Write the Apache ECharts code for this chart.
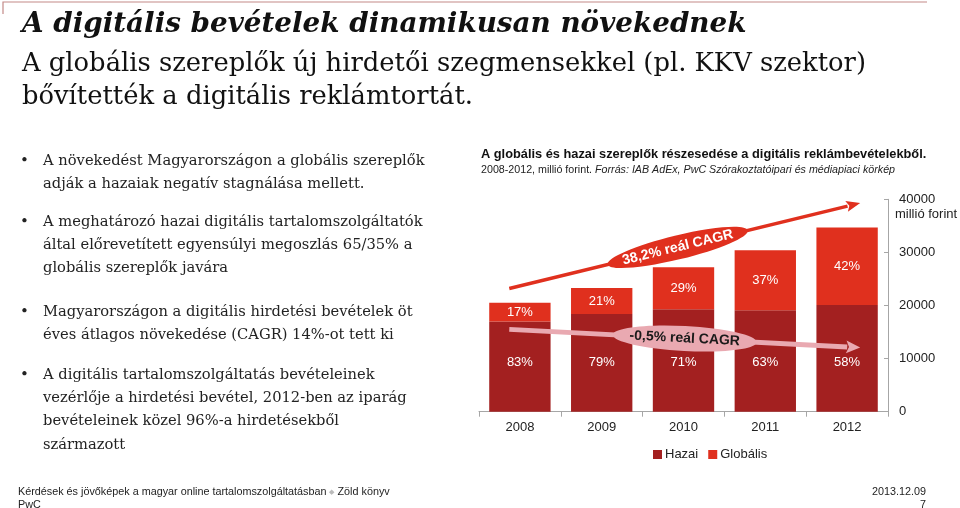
<!DOCTYPE html>
<html>
<head>
<meta charset="utf-8">
<script src="https://cdn.jsdelivr.net/npm/echarts@6/dist/echarts.min.js"></script>
<style>
html,body{margin:0;padding:0;background:#fff;}
#c{width:960px;height:508px;}
</style>
</head>
<body>
<div id="c"></div>
<script>
const categories = ['2008', '2009', '2010', '2011', '2012'];
const hazai = [17000, 18400, 19300, 19100, 20100];
const globalis = [3500, 4900, 7900, 11300, 14600];
const hazaiPct = ['83%', '79%', '71%', '63%', '58%'];
const globalisPct = ['17%', '21%', '29%', '37%', '42%'];
const globalArrowValues = [23700, 38700];
const hazaiArrowValues = [15400, 12200];
const globalArrowLabel = '38,2% reál CAGR';
const hazaiArrowLabel = '-0,5% reál CAGR';
const unitLabel = 'millió forint';

const titleLines = [
  'A digitális bevételek dinamikusan növekednek',
  'A globális szereplők új hirdetői szegmensekkel (pl. KKV szektor)',
  'bővítették a digitális reklámtortát.'
];
const bullets = [
  ['A növekedést Magyarországon a globális szereplők', 'adják a hazaiak negatív stagnálása mellett.'],
  ['A meghatározó hazai digitális tartalomszolgáltatók', 'által előrevetített egyensúlyi megoszlás 65/35% a', 'globális szereplők javára'],
  ['Magyarországon a digitális hirdetési bevételek öt', 'éves átlagos növekedése (CAGR) 14%-ot tett ki'],
  ['A digitális tartalomszolgáltatás bevételeinek', 'vezérlője a hirdetési bevétel, 2012-ben az iparág', 'bevételeinek közel 96%-a hirdetésekből', 'származott']
];
const bulletTops = [161, 222, 312, 375];

const C_HAZAI = '#A32020';
const C_GLOB = '#E0301E';
const C_PINK = '#E9A9B1';
const SANS = '"Liberation Sans", Arial, sans-serif';
const SERIF = '"DejaVu Serif", Georgia, serif';

const chart = echarts.init(document.getElementById('c'), null, {renderer: 'canvas'});

function staticGraphics() {
  const g = [];
  g.push({type: 'polyline', shape: {points: [[3, 14], [3, 2], [927, 2]]}, style: {stroke: '#C48A88', lineWidth: 1.2, fill: null}});
  g.push({type: 'text', x: 22, y: 25, style: {text: titleLines[0], font: 'italic bold 27.8px ' + SERIF, fill: '#111', textVerticalAlign: 'middle'}});
  g.push({type: 'text', x: 22, y: 64, style: {text: titleLines[1], font: '25.8px ' + SERIF, fill: '#111', textVerticalAlign: 'middle'}});
  g.push({type: 'text', x: 22, y: 97, style: {text: titleLines[2], font: '25.8px ' + SERIF, fill: '#111', textVerticalAlign: 'middle'}});
  bullets.forEach((b, i) => {
    g.push({type: 'text', x: 20, y: bulletTops[i], style: {text: '•', font: '15px ' + SERIF, fill: '#222', textVerticalAlign: 'middle'}});
    b.forEach((line, j) => {
      g.push({type: 'text', x: 43, y: bulletTops[i] + j * 23.3, style: {text: line, font: '14.7px ' + SERIF, fill: '#222', textVerticalAlign: 'middle'}});
    });
  });
  g.push({type: 'text', x: 481, y: 154, style: {text: 'A globális és hazai szereplők részesedése a digitális reklámbevételekből.', font: 'bold 12.8px ' + SANS, fill: '#111', textVerticalAlign: 'middle'}});
  g.push({type: 'text', x: 481, y: 170, style: {
    text: '{n|2008-2012, millió forint. }{i|Forrás: IAB AdEx, PwC Szórakoztatóipari és médiapiaci körkép}',
    textVerticalAlign: 'middle',
    rich: {n: {font: '10.7px ' + SANS, fill: '#222'}, i: {font: 'italic 10.7px ' + SANS, fill: '#222'}}
  }});
  g.push({type: 'text', x: 18, y: 492, style: {
    text: '{a|Kérdések és jövőképek a magyar online tartalomszolgáltatásban }{d|◆}{a| Zöld könyv}',
    textVerticalAlign: 'middle',
    rich: {a: {font: '10.8px ' + SANS, fill: '#222'}, d: {font: '7px ' + SANS, fill: '#BBB'}}
  }});
  g.push({type: 'text', x: 18, y: 505, style: {text: 'PwC', font: '10.8px ' + SANS, fill: '#222', textVerticalAlign: 'middle'}});
  g.push({type: 'text', x: 926, y: 492, style: {text: '2013.12.09', font: '10.8px ' + SANS, fill: '#222', textAlign: 'right', textVerticalAlign: 'middle'}});
  g.push({type: 'text', x: 926, y: 505, style: {text: '7', font: '10.8px ' + SANS, fill: '#222', textAlign: 'right', textVerticalAlign: 'middle'}});
  return g;
}

const option = {
  animation: false,
  grid: {left: 479, right: 72, top: 199.3, bottom: 96.3, containLabel: false},
  legend: {
    data: ['Hazai', 'Globális'],
    left: 648, top: 443,
    itemWidth: 9, itemHeight: 9, itemGap: 10,
    icon: 'rect',
    textStyle: {fontFamily: SANS, fontSize: 13, color: '#222', padding: [0, 0, 0, -2]}
  },
  xAxis: {
    type: 'category',
    data: categories,
    axisLine: {lineStyle: {color: '#A6A6A6', width: 1}},
    axisTick: {show: true, length: 5, lineStyle: {color: '#A6A6A6'}},
    axisLabel: {fontFamily: SANS, fontSize: 13, color: '#222', margin: 9}
  },
  yAxis: {
    type: 'value',
    position: 'right',
    min: 0, max: 40000, interval: 10000,
    axisLine: {show: true, lineStyle: {color: '#A6A6A6'}},
    axisTick: {show: true, inside: true, length: 4, lineStyle: {color: '#A6A6A6'}},
    splitLine: {show: false},
    axisLabel: {fontFamily: SANS, fontSize: 13, color: '#222', margin: 11, formatter: v => String(v)}
  },
  series: [
    {
      name: 'Hazai', type: 'bar', stack: 'total', barWidth: '75%',
      data: hazai,
      itemStyle: {color: C_HAZAI},
      label: {show: true, position: 'insideBottom', distance: 43, color: '#fff', fontFamily: SANS, fontSize: 13,
        formatter: p => hazaiPct[p.dataIndex]}
    },
    {
      name: 'Globális', type: 'bar', stack: 'total', barWidth: '75%',
      data: globalis,
      itemStyle: {color: C_GLOB},
      label: {show: true, position: 'inside', color: '#fff', fontFamily: SANS, fontSize: 13,
        formatter: p => globalisPct[p.dataIndex]}
    }
  ],
  graphic: staticGraphics()
};
chart.setOption(option);

function arrowGroup(values, color, lineW, headL, headW, t, rx, ry, label, textColor) {
  const a = chart.convertToPixel({gridIndex: 0}, [0, values[0]]);
  const b = chart.convertToPixel({gridIndex: 0}, [4, values[1]]);
  const band = chart.convertToPixel({gridIndex: 0}, [1, 0])[0] - chart.convertToPixel({gridIndex: 0}, [0, 0])[0];
  const x0 = a[0] - 0.13 * band, x1 = b[0] + 0.16 * band;
  const slope = (b[1] - a[1]) / (b[0] - a[0]);
  const y0 = a[1] - 0.13 * band * slope, y1 = b[1] + 0.16 * band * slope;
  const L = Math.hypot(x1 - x0, y1 - y0);
  const rot = Math.atan2(y0 - y1, x1 - x0);
  return {
    type: 'group', x: x0, y: y0, rotation: rot, z: 100,
    children: [
      {type: 'line', z: 100, shape: {x1: 0, y1: 0, x2: L - headL + 1, y2: 0}, style: {stroke: color, lineWidth: lineW}},
      {type: 'polygon', z: 100, shape: {points: [[L, 0], [L - headL, -headW / 2], [L - headL * 0.8, 0], [L - headL, headW / 2]]}, style: {fill: color}},
      {type: 'ellipse', z: 100, shape: {cx: L * t, cy: 0, rx: rx, ry: ry}, style: {fill: color}},
      {type: 'text', z: 101, x: L * t, y: 0, style: {text: label, font: 'bold 14px ' + SANS, fill: textColor, textAlign: 'center', textVerticalAlign: 'middle'}}
    ]
  };
}

const g = staticGraphics();
const top40 = chart.convertToPixel({gridIndex: 0}, [4, 40000]);
const axisX = chart.convertToPixel({gridIndex: 0}, [4, 0])[0] + chart.getModel().getComponent('grid').coordinateSystem.getRect().x * 0;
const rect = chart.getModel().getComponent('grid').coordinateSystem.getRect();
g.push({type: 'text', x: rect.x + rect.width + 7, y: top40[1] + 15, style: {text: unitLabel, font: '13px ' + SANS, fill: '#222', textVerticalAlign: 'middle'}});
g.push(arrowGroup(globalArrowValues, C_GLOB, 3.5, 14, 11, 0.48, 72, 12, globalArrowLabel, '#fff'));
g.push(arrowGroup(hazaiArrowValues, C_PINK, 5, 14, 13, 0.5, 72, 12.5, hazaiArrowLabel, '#1a1a1a'));
chart.setOption({graphic: g}, {replaceMerge: ['graphic']});
</script>
</body>
</html>
